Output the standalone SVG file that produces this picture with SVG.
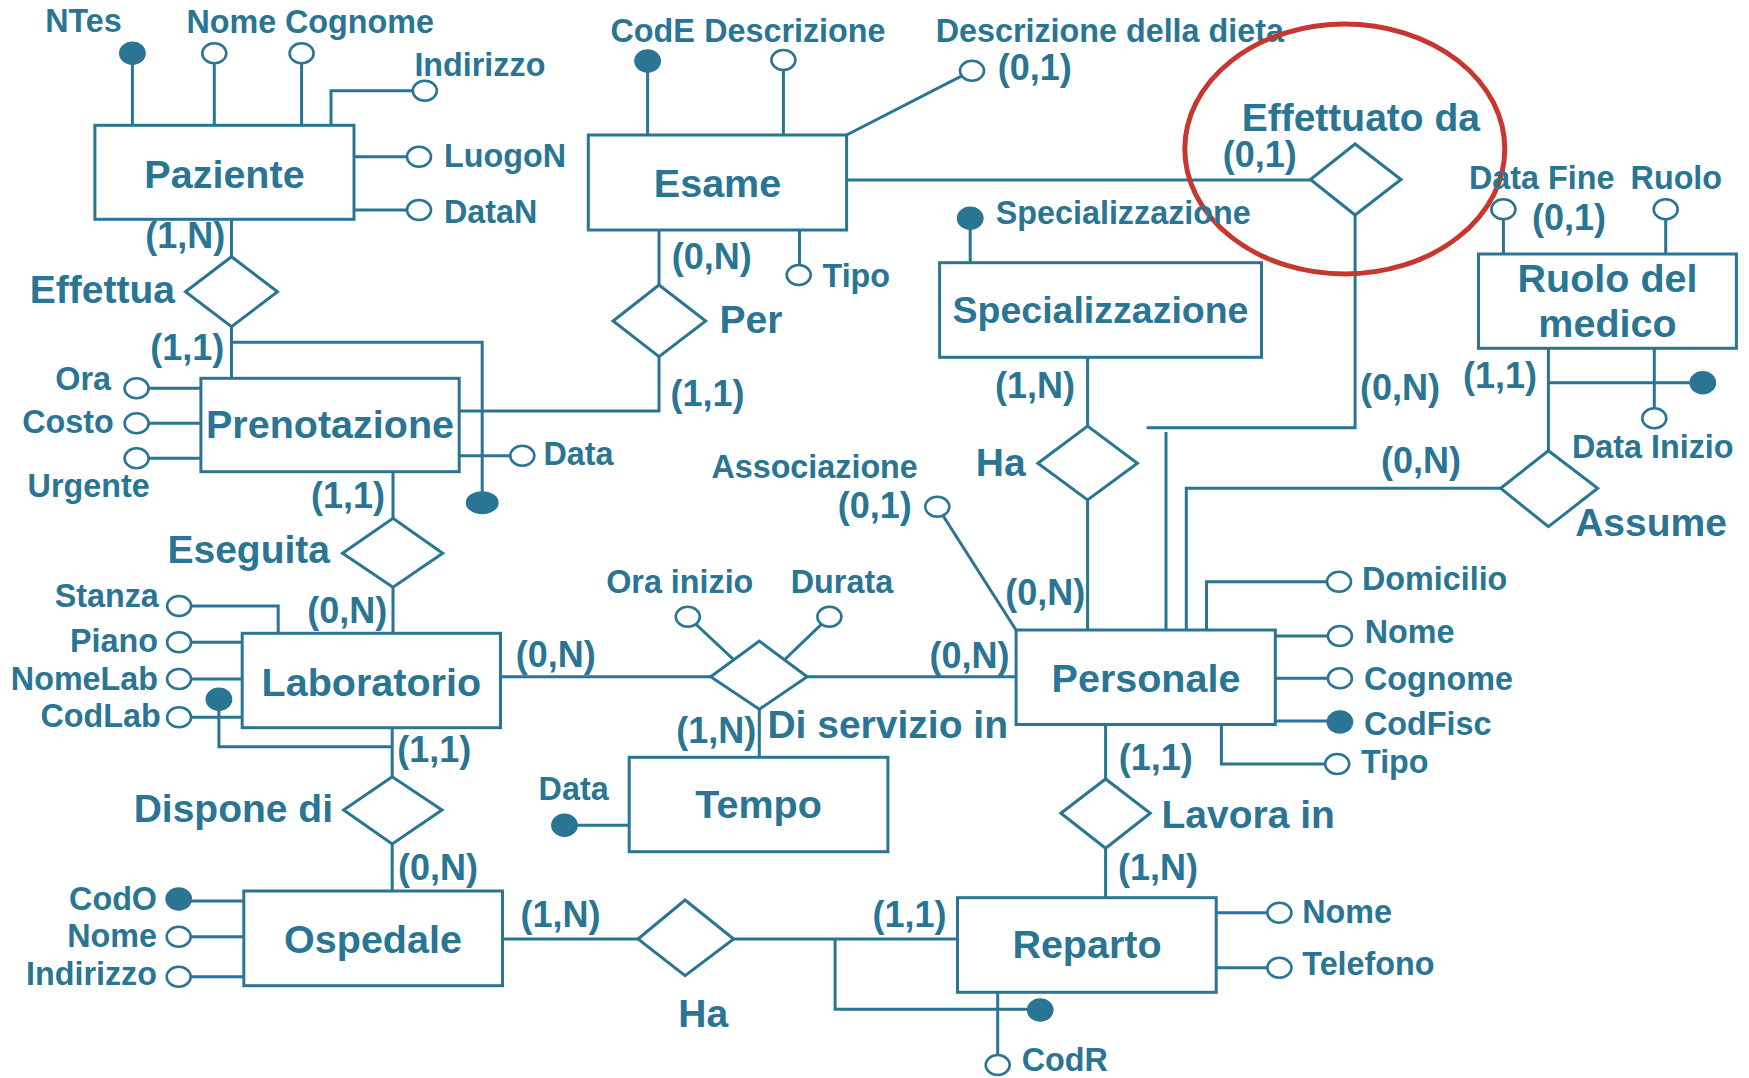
<svg xmlns="http://www.w3.org/2000/svg" width="1749" height="1078" viewBox="0 0 1749 1078">
<style>
.ln{fill:none;stroke:#2a7593;stroke-width:3}
.ent{fill:#fff;stroke:#2a7593;stroke-width:3}
.rel{fill:#fff;stroke:#2a7593;stroke-width:3}
.oa{fill:#fff;stroke:#2a7593;stroke-width:2.6}
.ka{fill:#2a7593;stroke:none}
text{font-family:"Liberation Sans",Arial,sans-serif;font-weight:bold;fill:#2a7593}
.at{font-size:32.3px}
.ate{font-size:32.3px;text-anchor:end}
.cd{font-size:36px}
.rl{font-size:39px}
.rle{font-size:39px;text-anchor:end}
.en{font-size:39.5px;text-anchor:middle}
</style>
<rect width="1749" height="1078" fill="#fff"/>
<g id="connectors">
<path class="ln" d="M132.4 53 V125 M214.3 53 V125 M301.6 53 V125 M331 125 V90.7 H424 M354 156.7 H419 M354 210 H419 M231.5 219 V257"/>
<path class="ln" d="M231.5 327 V378.3 M231.5 342.3 H482.2 V502"/>
<path class="ln" d="M136.6 388.3 H201 M136.6 423.3 H201 M136.6 458.3 H201 M459 455.7 H522 M459 411 H659 V356.7 M393 471.7 V518.3"/>
<path class="ln" d="M647.6 61 V135 M783.4 60 V135 M846.6 135 L972 70.7 M846.6 180 H1310.4 M659 230 V285 M799.5 230 V275"/>
<path class="ln" d="M1355.1 215 V427.7 H1146.7 M1166 432 V630"/>
<path class="ln" d="M970.2 218 V262.7 M1087.6 357.3 V426 M1087.6 500 V630"/>
<path class="ln" d="M1503.4 209 V254 M1665.7 209 V254 M1548.4 348.3 V450.7 M1548.4 382.7 H1702 M1654.3 348.3 V418"/>
<path class="ln" d="M1500.7 488.3 H1186.3 V630 M1206.5 630 V581.7 H1339"/>
<path class="ln" d="M1275.3 636 H1339 M1275.3 678.3 H1339 M1275.3 721 H1339 M1221.4 724 V764 H1337"/>
<path class="ln" d="M937.3 506.7 L1016 630"/>
<path class="ln" d="M500.5 676.7 H710.7 M807.2 676.7 H1016 M759.3 709.3 V757.3 M687.8 616.7 L733 659 M829.4 616.7 L785.3 659"/>
<path class="ln" d="M564.5 825.3 H629.2"/>
<path class="ln" d="M393 587.3 V633.3 M179 606 H278.2 V633.3 M179 642.3 H242.2 M179 679 H242.2 M179 717.3 H242.2 M218.9 699.3 V746.7 H392.2 M392.2 727.7 V776.7"/>
<path class="ln" d="M392.2 844 V891 M178.7 901 H243.8 M178.7 936.7 H243.8 M178.7 976.7 H243.8 M502.5 939 H638"/>
<path class="ln" d="M733.7 939 H957.5 M835.1 939 V1009.3 H1040 M997.7 992.3 V1065"/>
<path class="ln" d="M1105.6 724 V779 M1105.6 848.3 V897.7 M1216.2 912.7 H1279 M1216.2 967.7 H1279"/>
</g>
<g id="cardinalities">
<text class="cd" x="145.3" y="248.3">(1,N)</text>
<text class="cd" x="150.3" y="360">(1,1)</text>
<text class="cd" x="671.7" y="269.3">(0,N)</text>
<text class="cd" x="670.5" y="406">(1,1)</text>
<text class="cd" x="311" y="508.3">(1,1)</text>
<text class="cd" x="1222.7" y="167">(0,1)</text>
<text class="cd" x="995" y="398.3">(1,N)</text>
<text class="cd" x="1360" y="400">(0,N)</text>
<text class="cd" x="1463" y="388.3">(1,1)</text>
<text class="cd" x="1380.9" y="473.3">(0,N)</text>
<text class="cd" x="1005.3" y="605">(0,N)</text>
<text class="cd" x="307.2" y="622.7">(0,N)</text>
<text class="cd" x="515.8" y="667.3">(0,N)</text>
<text class="cd" x="929.5" y="668.3">(0,N)</text>
<text class="cd" x="676.2" y="743.3">(1,N)</text>
<text class="cd" x="397.2" y="761.7">(1,1)</text>
<text class="cd" x="1118.7" y="770">(1,1)</text>
<text class="cd" x="398" y="880">(0,N)</text>
<text class="cd" x="520.4" y="926.7">(1,N)</text>
<text class="cd" x="872.5" y="926.7">(1,1)</text>
<text class="cd" x="1117.9" y="880">(1,N)</text>
</g>
<g id="paziente">
<rect class="ent" x="94.9" y="125.3" width="259.1" height="94"/>
<text class="en" x="224.5" y="188.3">Paziente</text>
</g>
<g id="attr-paziente">
<ellipse class="ka" cx="132.4" cy="53.3" rx="13.4" ry="11.7"/><text class="at" x="45.2" y="31.7">NTes</text>
<ellipse class="oa" cx="214.3" cy="53.3" rx="12" ry="10"/><text class="at" x="186.4" y="33.3">Nome</text>
<ellipse class="oa" cx="301.6" cy="53.3" rx="12" ry="10"/><text class="at" x="285" y="33.3">Cognome</text>
<ellipse class="oa" cx="424.8" cy="90.7" rx="12" ry="10"/><text class="at" x="414.4" y="76">Indirizzo</text>
<ellipse class="oa" cx="419" cy="156.7" rx="12" ry="10"/><text class="at" x="444" y="166.7">LuogoN</text>
<ellipse class="oa" cx="419" cy="210" rx="12" ry="10"/><text class="at" x="444" y="223.3">DataN</text>
</g>
<g id="effettua">
<polygon class="rel" points="185.5,291.7 231.5,256.7 277.5,291.7 231.5,326.7"/>
<text class="rle" x="175" y="303">Effettua</text>
</g>
<g id="esame">
<rect class="ent" x="588.3" y="135" width="258.3" height="95"/>
<text class="en" x="717.5" y="197.3">Esame</text>
</g>
<g id="attr-esame">
<ellipse class="ka" cx="647.6" cy="61" rx="13.4" ry="11.7"/><text class="at" x="610.5" y="41.7">CodE</text>
<ellipse class="oa" cx="783.4" cy="60" rx="12" ry="10"/><text class="at" x="704.2" y="41.7">Descrizione</text>
<ellipse class="oa" cx="972" cy="70.7" rx="12" ry="10"/><text class="at" x="935.7" y="41.7">Descrizione della dieta</text><text class="cd" x="997.7" y="80">(0,1)</text>
<ellipse class="oa" cx="798.7" cy="275" rx="12" ry="10"/><text class="at" x="822.5" y="286.7">Tipo</text>
</g>
<g id="per">
<polygon class="rel" points="613.1,321 659,285 705.7,321 659,356.7"/>
<text class="rl" x="719.5" y="333.3">Per</text>
</g>
<g id="effettuato-da">
<polygon class="rel" points="1310.4,179.5 1355.1,144 1401,179.5 1355.1,215"/>
<text class="rl" x="1241.7" y="130.7">Effettuato da</text>
</g>
<ellipse id="highlight" cx="1344.8" cy="149" rx="160" ry="125" fill="none" stroke="#c8372f" stroke-width="5"/>
<g id="specializzazione">
<rect class="ent" x="939.6" y="262.7" width="321.9" height="94.6"/>
<text class="en" x="1100.5" y="323.3" style="font-size:37.5px">Specializzazione</text>
</g>
<g id="attr-specializzazione">
<ellipse class="ka" cx="970.2" cy="218.3" rx="13.4" ry="11.7"/><text class="at" x="995.8" y="224">Specializzazione</text>
</g>
<g id="ha-spec">
<polygon class="rel" points="1037.9,463.3 1087.6,426 1137.4,463.3 1087.6,500"/>
<text class="rle" x="1025.6" y="476">Ha</text>
</g>
<g id="ruolo-del-medico">
<rect class="ent" x="1478.5" y="254" width="257.9" height="94.3"/>
<text class="en" x="1607.5" y="292">Ruolo del</text>
<text class="en" x="1607.5" y="337.3">medico</text>
</g>
<g id="attr-ruolo">
<ellipse class="oa" cx="1503.4" cy="209.3" rx="12" ry="10"/><text class="at" x="1469" y="189.3">Data Fine</text><text class="cd" x="1532" y="230">(0,1)</text>
<ellipse class="oa" cx="1665.7" cy="209.3" rx="12" ry="10"/><text class="at" x="1630.6" y="189.3">Ruolo</text>
<ellipse class="ka" cx="1702.8" cy="382.7" rx="13.4" ry="11.7"/>
<ellipse class="oa" cx="1654.3" cy="418.3" rx="12" ry="10"/><text class="at" x="1572" y="458.3">Data Inizio</text>
</g>
<g id="assume">
<polygon class="rel" points="1500.7,488.3 1548.4,450.7 1597.7,488.3 1548.4,526.7"/>
<text class="rl" x="1575.2" y="536">Assume</text>
</g>
<g id="prenotazione">
<rect class="ent" x="200.9" y="378.3" width="258.3" height="93.4"/>
<text class="en" x="330" y="438.3">Prenotazione</text>
</g>
<g id="attr-prenotazione">
<ellipse class="oa" cx="136.6" cy="388.3" rx="12" ry="10"/><text class="ate" x="111" y="390">Ora</text>
<ellipse class="oa" cx="136.6" cy="423.3" rx="12" ry="10"/><text class="ate" x="113.7" y="433.3">Costo</text>
<ellipse class="oa" cx="136.6" cy="458.3" rx="12" ry="10"/><text class="at" x="27.6" y="496.7">Urgente</text>
<ellipse class="oa" cx="522.3" cy="455.7" rx="12" ry="10"/><text class="at" x="543.4" y="465">Data</text>
<ellipse class="ka" cx="482.2" cy="502.7" rx="16.5" ry="11.5"/>
</g>
<g id="eseguita">
<polygon class="rel" points="342.5,553.3 393,518.3 442.7,553.3 393,587.3"/>
<text class="rle" x="330" y="563.3">Eseguita</text>
</g>
<g id="personale">
<rect class="ent" x="1016.1" y="630" width="259.2" height="94.5"/>
<text class="en" x="1146" y="691.7">Personale</text>
</g>
<g id="attr-personale">
<ellipse class="oa" cx="937.3" cy="506.7" rx="12" ry="10"/><text class="at" x="711.4" y="478.3">Associazione</text><text class="cd" x="837.7" y="518.3">(0,1)</text>
<ellipse class="oa" cx="1339" cy="581.7" rx="12" ry="10"/><text class="at" x="1362" y="590">Domicilio</text>
<ellipse class="oa" cx="1339.9" cy="636" rx="12" ry="10"/><text class="at" x="1364.7" y="643.3">Nome</text>
<ellipse class="oa" cx="1339.9" cy="678.3" rx="12" ry="10"/><text class="at" x="1364" y="690">Cognome</text>
<ellipse class="ka" cx="1339.9" cy="722" rx="13.4" ry="11.7"/><text class="at" x="1364" y="735">CodFisc</text>
<ellipse class="oa" cx="1337.2" cy="764" rx="12" ry="10"/><text class="at" x="1361" y="773.3">Tipo</text>
</g>
<g id="di-servizio-in">
<polygon class="rel" points="710.7,676.7 759.3,641 807.2,676.7 759.3,709.3"/>
<text class="rl" x="767.4" y="738.3">Di servizio in</text>
<ellipse class="oa" cx="687.8" cy="616.7" rx="12" ry="10"/><text class="at" x="606.2" y="593.3">Ora inizio</text>
<ellipse class="oa" cx="829.4" cy="616.7" rx="12" ry="10"/><text class="at" x="790.8" y="593.3">Durata</text>
</g>
<g id="tempo">
<rect class="ent" x="629.2" y="757.3" width="258.7" height="94.4"/>
<text class="en" x="758.5" y="818.3">Tempo</text>
<ellipse class="ka" cx="564.5" cy="825.3" rx="13.4" ry="11.7"/><text class="at" x="538.6" y="800">Data</text>
</g>
<g id="laboratorio">
<rect class="ent" x="242.2" y="633.3" width="258.3" height="94.4"/>
<text class="en" x="371.3" y="696">Laboratorio</text>
</g>
<g id="attr-laboratorio">
<ellipse class="oa" cx="179.1" cy="606" rx="12" ry="10"/><text class="ate" x="158.8" y="607.3">Stanza</text>
<ellipse class="oa" cx="179.1" cy="642.3" rx="12" ry="10"/><text class="ate" x="158" y="651.7">Piano</text>
<ellipse class="oa" cx="179.1" cy="679" rx="12" ry="10"/><text class="ate" x="158" y="690">NomeLab</text>
<ellipse class="oa" cx="179.1" cy="717.3" rx="12" ry="10"/><text class="ate" x="160.7" y="726.7">CodLab</text>
<ellipse class="ka" cx="218.9" cy="699.3" rx="13.4" ry="11.7"/>
</g>
<g id="dispone-di">
<polygon class="rel" points="343.6,810 392.2,776.7 442,810 392.2,844"/>
<text class="rle" x="333" y="821.7">Dispone di</text>
</g>
<g id="ospedale">
<rect class="ent" x="243.8" y="891" width="258.7" height="94.7"/>
<text class="en" x="373" y="952.7">Ospedale</text>
</g>
<g id="attr-ospedale">
<ellipse class="ka" cx="178.7" cy="899" rx="13.4" ry="11.7"/><text class="ate" x="157" y="910">CodO</text>
<ellipse class="oa" cx="178.7" cy="936.7" rx="12" ry="10"/><text class="ate" x="157" y="946.7">Nome</text>
<ellipse class="oa" cx="178.7" cy="976.7" rx="12" ry="10"/><text class="ate" x="157" y="985">Indirizzo</text>
</g>
<g id="ha-reparto">
<polygon class="rel" points="638,939 685.1,900 733.7,939 685.1,975.7"/>
<text class="rl" x="678.3" y="1026.7">Ha</text>
</g>
<g id="lavora-in">
<polygon class="rel" points="1060.9,813.3 1105.6,779 1150.3,813.3 1105.6,848.3"/>
<text class="rl" x="1161.5" y="828.3">Lavora in</text>
</g>
<g id="reparto">
<rect class="ent" x="957.5" y="897.7" width="258.7" height="94.6"/>
<text class="en" x="1087" y="958.3">Reparto</text>
</g>
<g id="attr-reparto">
<ellipse class="ka" cx="1040.2" cy="1010" rx="13.4" ry="11.7"/>
<ellipse class="oa" cx="997.7" cy="1065" rx="12" ry="10"/><text class="at" x="1021.8" y="1071">CodR</text>
<ellipse class="oa" cx="1279.4" cy="912.7" rx="12" ry="10"/><text class="at" x="1302.3" y="923.3">Nome</text>
<ellipse class="oa" cx="1279.4" cy="967.7" rx="12" ry="10"/><text class="at" x="1302.3" y="975">Telefono</text>
</g>
</svg>
